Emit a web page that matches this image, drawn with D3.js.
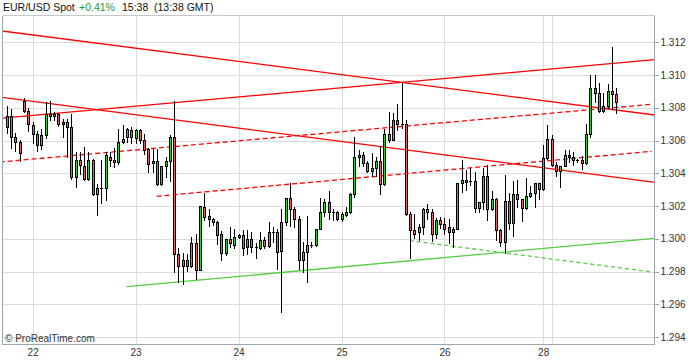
<!DOCTYPE html>
<html><head><meta charset="utf-8">
<script src="https://cdn.jsdelivr.net/npm/d3@7/dist/d3.min.js"></script>
<style>body{margin:0;background:#fff}svg{display:block;font-family:"Liberation Sans",Arial,sans-serif}</style>
</head><body><svg id="c" width="700" height="360"></svg>
<script>
// Hourly EUR/USD candles (index 0..142)
const opens=[1.30681,1.30748,1.30620,1.30589,1.30842,1.30779,1.30695,1.30638,1.30571,1.30632,
1.30760,1.30748,1.30760,1.30699,1.30711,1.30681,1.30380,1.30479,1.30443,1.30367,
1.30479,1.30276,1.30308,1.30308,1.30498,1.30479,1.30471,1.30589,1.30620,1.30665,
1.30618,1.30663,1.30601,1.30551,1.30461,1.30475,1.30337,1.30445,1.30475,1.30620,
1.29909,1.29832,1.29869,1.29832,1.29972,1.29807,1.30192,1.30137,1.30119,1.30101,
1.30027,1.29911,1.29997,1.29960,1.30009,1.30021,1.29948,1.29997,1.29942,1.29942,
1.29991,1.29958,1.30040,1.30040,1.29927,1.30101,1.30247,1.30182,1.30119,1.29869,
1.29917,1.29962,1.29960,1.30058,1.30162,1.30223,1.30162,1.30162,1.30119,1.30147,
1.30162,1.30274,1.30498,1.30510,1.30461,1.30412,1.30430,1.30473,1.30333,1.30638,
1.30606,1.30724,1.30699,1.30699,1.30150,1.30052,1.30040,1.30070,1.30180,1.30162,
1.30027,1.30113,1.30088,1.30070,1.30040,1.30058,1.30339,1.30357,1.30349,1.30353,
1.30190,1.30223,1.30384,1.30180,1.30243,1.30052,1.29978,1.30229,1.30099,1.30272,
1.30241,1.30190,1.30259,1.30280,1.30339,1.30302,1.30491,1.30608,1.30449,1.30412,
1.30443,1.30510,1.30498,1.30479,1.30479,1.30461,1.30638,1.30919,1.30889,1.30779,
1.30811,1.30901,1.30882];
const highs=[1.30811,1.30791,1.30644,1.30601,1.30858,1.30797,1.30711,1.30659,1.30669,1.30834,
1.30842,1.30777,1.30768,1.30730,1.30730,1.30760,1.30530,1.30530,1.30559,1.30530,
1.30490,1.30333,1.30483,1.30528,1.30528,1.30553,1.30669,1.30695,1.30679,1.30683,
1.30669,1.30669,1.30638,1.30553,1.30547,1.30549,1.30445,1.30500,1.30634,1.30842,
1.29944,1.29911,1.29905,1.30009,1.30029,1.30198,1.30278,1.30180,1.30125,1.30109,
1.30048,1.29997,1.30070,1.30058,1.30027,1.30054,1.30056,1.30044,1.29972,1.30040,
1.30009,1.30101,1.30070,1.30060,1.30182,1.30247,1.30341,1.30196,1.30139,1.29978,
1.30139,1.29982,1.30058,1.30247,1.30243,1.30292,1.30182,1.30172,1.30162,1.30196,
1.30282,1.30624,1.30542,1.30532,1.30473,1.30524,1.30502,1.30569,1.30669,1.30773,
1.30766,1.30823,1.30950,1.30726,1.30162,1.30150,1.30088,1.30190,1.30211,1.30180,
1.30125,1.30133,1.30129,1.30121,1.30070,1.30339,1.30481,1.30418,1.30430,1.30408,
1.30223,1.30435,1.30451,1.30294,1.30247,1.30060,1.30392,1.30282,1.30353,1.30359,
1.30243,1.30369,1.30322,1.30339,1.30341,1.30573,1.30695,1.30634,1.30467,1.30443,
1.30540,1.30540,1.30528,1.30490,1.30508,1.30703,1.31001,1.31001,1.30950,1.30889,
1.30944,1.31172,1.30919];
const lows=[1.30648,1.30553,1.30536,1.30475,1.30777,1.30659,1.30587,1.30536,1.30549,1.30616,
1.30728,1.30726,1.30691,1.30620,1.30502,1.30365,1.30318,1.30396,1.30360,1.30360,
1.30270,1.30145,1.30221,1.30237,1.30445,1.30439,1.30459,1.30587,1.30589,1.30583,
1.30583,1.30583,1.30516,1.30410,1.30408,1.30331,1.30329,1.30380,1.30351,1.29799,
1.29738,1.29726,1.29805,1.29826,1.29755,1.29807,1.30117,1.30076,1.30086,1.29970,
1.29869,1.29899,1.29952,1.29942,1.30003,1.29899,1.29909,1.29921,1.29881,1.29938,
1.29946,1.29952,1.29978,1.29818,1.29551,1.30084,1.30080,1.30072,1.29818,1.29799,
1.29738,1.29952,1.29956,1.30058,1.30141,1.30121,1.30113,1.30113,1.30111,1.30141,
1.30158,1.30255,1.30445,1.30445,1.30408,1.30386,1.30386,1.30272,1.30329,1.30593,
1.30601,1.30665,1.30675,1.30145,1.29885,1.30007,1.29991,1.30027,1.30121,1.29987,
1.30003,1.30068,1.30027,1.29976,1.29952,1.30058,1.30288,1.30298,1.30329,1.30162,
1.30162,1.30182,1.30113,1.30176,1.29993,1.29956,1.29911,1.30058,1.30019,1.30196,
1.30109,1.30180,1.30257,1.30196,1.30243,1.30300,1.30487,1.30445,1.30386,1.30318,
1.30443,1.30471,1.30449,1.30469,1.30428,1.30457,1.30620,1.30838,1.30774,1.30774,
1.30801,1.30791,1.30770];
const closes=[1.30748,1.30620,1.30589,1.30522,1.30779,1.30699,1.30638,1.30571,1.30632,1.30760,
1.30748,1.30760,1.30699,1.30711,1.30681,1.30380,1.30479,1.30449,1.30367,1.30479,
1.30276,1.30308,1.30310,1.30510,1.30479,1.30471,1.30589,1.30608,1.30669,1.30620,
1.30663,1.30601,1.30540,1.30459,1.30475,1.30337,1.30445,1.30475,1.30620,1.29909,
1.29832,1.29869,1.29832,1.29972,1.29807,1.30198,1.30133,1.30121,1.30101,1.30021,
1.29911,1.29997,1.29972,1.30009,1.30021,1.29942,1.29999,1.29948,1.29952,1.29991,
1.29958,1.30040,1.30040,1.29917,1.30101,1.30247,1.30182,1.30119,1.29869,1.29917,
1.29962,1.29962,1.30058,1.30162,1.30223,1.30162,1.30162,1.30119,1.30152,1.30162,
1.30274,1.30498,1.30510,1.30461,1.30412,1.30430,1.30473,1.30333,1.30638,1.30606,
1.30724,1.30699,1.30699,1.30150,1.30052,1.30027,1.30070,1.30180,1.30162,1.30027,
1.30113,1.30088,1.30058,1.30040,1.30058,1.30339,1.30357,1.30349,1.30355,1.30190,
1.30223,1.30384,1.30180,1.30243,1.30052,1.29978,1.30229,1.30099,1.30272,1.30241,
1.30190,1.30259,1.30280,1.30339,1.30302,1.30491,1.30608,1.30449,1.30412,1.30443,
1.30510,1.30498,1.30479,1.30479,1.30461,1.30638,1.30919,1.30889,1.30779,1.30811,
1.30901,1.30882,1.30834];

// Axis data
const dayLabels=["22","23","24","25","26","28"];
const dayIndex=[6,30,54,78,102,125];
const extraGridIndex=[127];
const priceTicks=[1.294,1.296,1.298,1.300,1.302,1.304,1.306,1.308,1.310,1.312];

// Trend lines: [startIndex, startPrice, endIndex, endPrice]
const redSolidLines=[[-1.7,1.312708,151,1.307560],[-1.7,1.307359,151,1.310937],[-1.7,1.308659,151,1.303450]];
const redDashedLines=[[-1.7,1.304690,150.3,1.308214],[34.9,1.302595,150.3,1.305343]];
const greenSolidLines=[[27.9,1.297074,151,1.300030]];
const greenDashedLines=[[93.9,1.299884,150.3,1.297972]];

const svg=d3.select("#c");
const L=2.5,R=654.5,T=15.5,B=344.5;
const x=d3.scaleLinear().domain([-1,151]).range([2.6,654.7]);
const y=d3.scaleLinear().domain([1.294,1.312]).range([337,42.3]);

svg.append("defs").append("clipPath").attr("id","pc").append("rect")
  .attr("x",L).attr("y",T).attr("width",R-L).attr("height",B-T);

// grid
const grid=svg.append("g").attr("shape-rendering","crispEdges");
priceTicks.forEach(p=>{
  const yy=Math.round(y(p))+0.5;
  grid.append("line").attr("x1",L).attr("x2",R).attr("y1",yy).attr("y2",yy).attr("stroke","#dcdcdc");
});
dayIndex.concat(extraGridIndex).forEach(i=>{
  const xx=Math.round(x(i))+0.5;
  grid.append("line").attr("x1",xx).attr("x2",xx).attr("y1",T).attr("y2",B).attr("stroke","#dcdcdc");
});

// trend lines
const tl=svg.append("g").attr("clip-path","url(#pc)").attr("fill","none");
function drawLines(arr,color,dash){
  arr.forEach(a=>{
    const ln=tl.append("line").attr("x1",x(a[0])).attr("y1",y(a[1])).attr("x2",x(a[2])).attr("y2",y(a[3]))
      .attr("stroke",color).attr("stroke-width",1.3);
    if(dash) ln.attr("stroke-dasharray",dash);
  });
}
drawLines(redSolidLines,"#ff0000",null);
drawLines(redDashedLines,"#ff0000","5,3");
drawLines(greenSolidLines,"#55cc44",null);
drawLines(greenDashedLines,"#55cc44","4,3");

// candles
const cg=svg.append("g").attr("shape-rendering","crispEdges");
opens.forEach((o,i)=>{
  const c=closes[i],h=highs[i],l=lows[i];
  const cx=Math.round(x(i));
  const yt=Math.round(y(Math.max(o,c))), yb=Math.round(y(Math.min(o,c)));
  cg.append("line").attr("x1",cx+0.5).attr("x2",cx+0.5)
    .attr("y1",Math.round(y(h))).attr("y2",Math.round(y(l))+1).attr("stroke","#000");
  if(yb-yt<2){
    cg.append("line").attr("x1",cx-1).attr("x2",cx+2).attr("y1",yt+0.5).attr("y2",yt+0.5).attr("stroke","#000");
  } else {
    cg.append("rect").attr("x",cx-0.5).attr("y",yt+0.5).attr("width",2).attr("height",yb-yt)
      .attr("fill",c>=o?"#3cc43c":"#e06262").attr("stroke","#000");
  }
});

// frame
const fr=svg.append("g").attr("shape-rendering","crispEdges");
fr.append("line").attr("x1",L).attr("x2",R).attr("y1",T).attr("y2",T).attr("stroke","#c4c8cc");
fr.append("line").attr("x1",L).attr("x2",L).attr("y1",T).attr("y2",B).attr("stroke","#9aa6b2");
fr.append("line").attr("x1",L).attr("x2",R).attr("y1",B).attr("y2",B).attr("stroke","#9aa6b2");
fr.append("line").attr("x1",R).attr("x2",R).attr("y1",T).attr("y2",B).attr("stroke","#9aa6b2");

// y axis
const ya=svg.append("g").attr("transform",`translate(${R},0)`)
  .call(d3.axisRight(y).tickValues(priceTicks).tickFormat(d3.format(".3f")).tickSize(4).tickPadding(2));
ya.select(".domain").remove();
ya.selectAll("line").attr("stroke","#9aa6b2").attr("shape-rendering","crispEdges");
ya.selectAll("text").attr("fill","#333").style("font-size","10px").style("font-family","Liberation Sans, Arial, sans-serif");

// x axis
const xa=svg.append("g").attr("transform",`translate(0,${B})`)
  .call(d3.axisBottom(x).tickValues(dayIndex).tickFormat((d,k)=>dayLabels[k]).tickSize(0).tickPadding(4));
xa.select(".domain").remove();
xa.selectAll("text").attr("fill","#333").style("font-size","10px").style("font-family","Liberation Sans, Arial, sans-serif");

// title
const tt=svg.append("g").style("font-size","10.5px");
tt.append("text").attr("x",3).attr("y",11).attr("fill","#111").text("EUR/USD Spot");
tt.append("text").attr("x",79).attr("y",11).attr("fill","#2e962e").text("+0.41%");
tt.append("text").attr("x",122).attr("y",11).attr("fill","#111").text("15:38");
tt.append("text").attr("x",154).attr("y",11).attr("fill","#111").text("(13:38 GMT)");

svg.append("text").attr("x",5).attr("y",342).attr("fill","#333").style("font-size","10px").text("© ProRealTime.com");
</script></body></html>
